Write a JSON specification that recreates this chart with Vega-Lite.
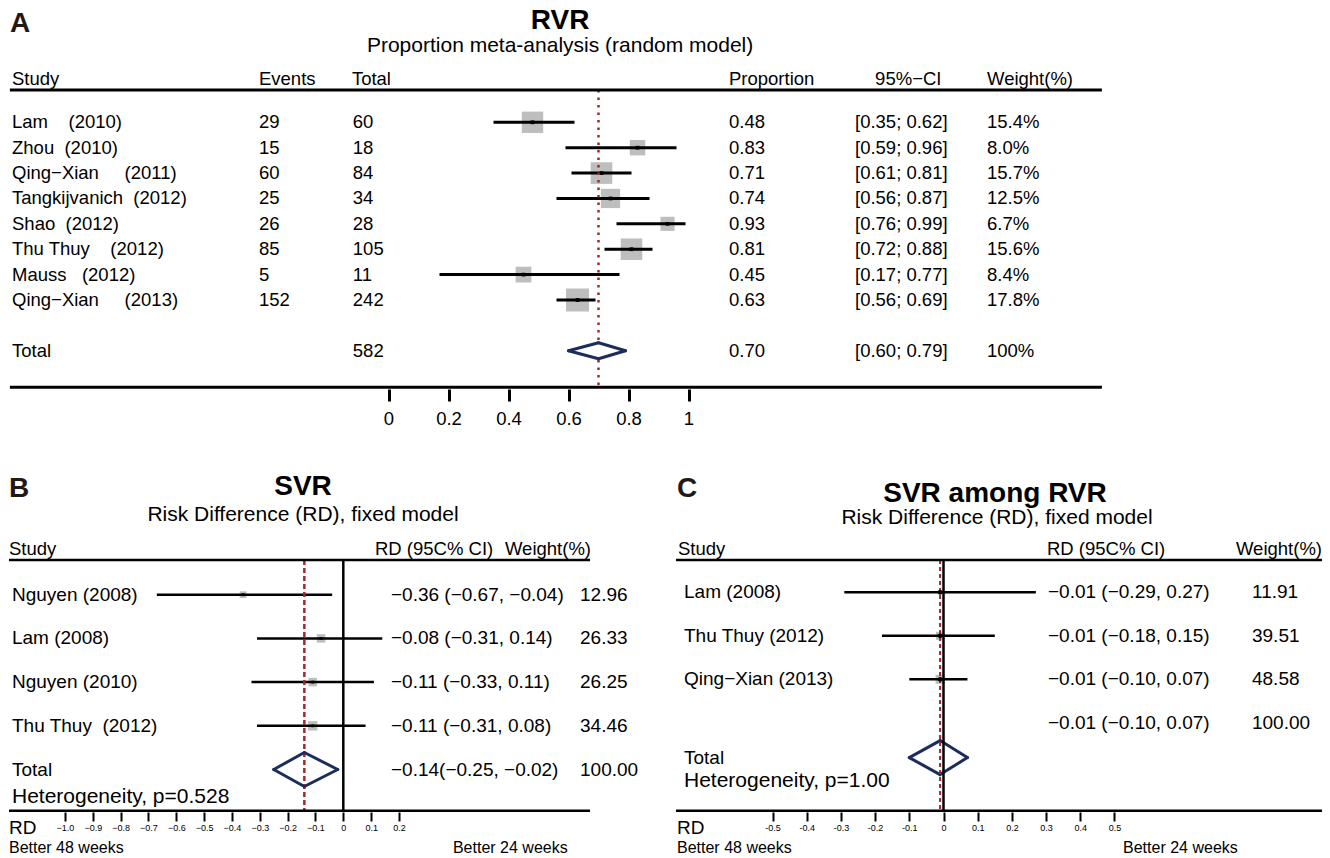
{
"$schema":"https://vega.github.io/schema/vega-lite/v6.json",
"padding":0,"background":"white","bounds":"flush","spacing":51,
"config":{"view":{"stroke":null},"font":"Liberation Sans","text":{"font":"Liberation Sans","color":"black"},"axis":{"labelFont":"Liberation Sans","grid":false}},
"datasets":{
"one":[{}],
"A":[
{"kind":"study","study":"Lam\u00a0\u00a0\u00a0\u00a0(2010)","events":"29","total":"60","prop":"0.48","ci":"[0.35; 0.62]","wlab":"15.4%","est":0.48,"lower":0.35,"upper":0.62,"weight":15.4,"row":1},
{"kind":"study","study":"Zhou\u00a0\u00a0(2010)","events":"15","total":"18","prop":"0.83","ci":"[0.59; 0.96]","wlab":"8.0%","est":0.83,"lower":0.59,"upper":0.96,"weight":8.0,"row":2},
{"kind":"study","study":"Qing−Xian\u00a0\u00a0\u00a0\u00a0\u00a0(2011)","events":"60","total":"84","prop":"0.71","ci":"[0.61; 0.81]","wlab":"15.7%","est":0.71,"lower":0.61,"upper":0.81,"weight":15.7,"row":3},
{"kind":"study","study":"Tangkijvanich\u00a0\u00a0(2012)","events":"25","total":"34","prop":"0.74","ci":"[0.56; 0.87]","wlab":"12.5%","est":0.74,"lower":0.56,"upper":0.87,"weight":12.5,"row":4},
{"kind":"study","study":"Shao\u00a0\u00a0(2012)","events":"26","total":"28","prop":"0.93","ci":"[0.76; 0.99]","wlab":"6.7%","est":0.93,"lower":0.76,"upper":0.99,"weight":6.7,"row":5},
{"kind":"study","study":"Thu Thuy\u00a0\u00a0\u00a0\u00a0(2012)","events":"85","total":"105","prop":"0.81","ci":"[0.72; 0.88]","wlab":"15.6%","est":0.81,"lower":0.72,"upper":0.88,"weight":15.6,"row":6},
{"kind":"study","study":"Mauss\u00a0\u00a0\u00a0(2012)","events":"5","total":"11","prop":"0.45","ci":"[0.17; 0.77]","wlab":"8.4%","est":0.45,"lower":0.17,"upper":0.77,"weight":8.4,"row":7},
{"kind":"study","study":"Qing−Xian\u00a0\u00a0\u00a0\u00a0\u00a0(2013)","events":"152","total":"242","prop":"0.63","ci":"[0.56; 0.69]","wlab":"17.8%","est":0.63,"lower":0.56,"upper":0.69,"weight":17.8,"row":8},
{"kind":"total","study":"Total","events":"","total":"582","prop":"0.70","ci":"[0.60; 0.79]","wlab":"100%","est":0.70,"lower":0.60,"upper":0.79,"row":10}
],
"B":[
{"kind":"study","study":"Nguyen (2008)","rd":"−0.36 (−0.67, −0.04)","w":"12.96","est":-0.36,"lower":-0.67,"upper":-0.04,"weight":12.96,"row":1},
{"kind":"study","study":"Lam (2008)","rd":"−0.08 (−0.31, 0.14)","w":"26.33","est":-0.08,"lower":-0.31,"upper":0.14,"weight":26.33,"row":2},
{"kind":"study","study":"Nguyen (2010)","rd":"−0.11 (−0.33, 0.11)","w":"26.25","est":-0.11,"lower":-0.33,"upper":0.11,"weight":26.25,"row":3},
{"kind":"study","study":"Thu Thuy\u00a0 (2012)","rd":"−0.11 (−0.31, 0.08)","w":"34.46","est":-0.11,"lower":-0.31,"upper":0.08,"weight":34.46,"row":4},
{"kind":"total","study":"Total","rd":"−0.14(−0.25, −0.02)","w":"100.00","est":-0.14,"lower":-0.25,"upper":-0.02,"row":5}
],
"C":[
{"kind":"study","study":"Lam (2008)","rd":"−0.01 (−0.29, 0.27)","w":"11.91","est":-0.01,"lower":-0.29,"upper":0.27,"weight":11.91,"row":1},
{"kind":"study","study":"Thu Thuy (2012)","rd":"−0.01 (−0.18, 0.15)","w":"39.51","est":-0.01,"lower":-0.18,"upper":0.15,"weight":39.51,"row":2},
{"kind":"study","study":"Qing−Xian (2013)","rd":"−0.01 (−0.10, 0.07)","w":"48.58","est":-0.01,"lower":-0.10,"upper":0.07,"weight":48.58,"row":3},
{"kind":"pooled","study":"","rd":"−0.01 (−0.10, 0.07)","w":"100.00","row":4},
{"kind":"total","study":"Total","rd":"","w":"","est":-0.01,"lower":-0.10,"upper":0.07,"row":4.8}
]
},
"vconcat":[
{"width":1330,"height":389,"data":{"name":"A"},
 "layer":[
  {"transform":[{"filter":"datum.kind == 'study'"}],
   "mark":{"type":"point","shape":"square","filled":true,"color":"#BEBEBE","opacity":1},
   "encoding":{
    "x":{"field":"est","type":"quantitative","scale":{"domain":[-1.295,3.13833],"nice":false,"zero":false},
      "axis":{"orient":"bottom","values":[0,0.2,0.4,0.6,0.8,1],"format":"~g","domain":false,"ticks":true,"tickSize":12,"tickWidth":3,"tickColor":"black","labelFontSize":18.5,"labelColor":"black","labelPadding":8,"title":null,"grid":false}},
    "y":{"field":"row","type":"quantitative","scale":{"domain":[-3.8177,11.506],"reverse":true,"nice":false,"zero":false},"axis":null},
    "size":{"field":"weight","type":"quantitative","scale":{"domain":[0,17.8],"range":[0,529]},"legend":null}}},
  {"transform":[{"filter":"datum.kind == 'study'"}],
   "mark":{"type":"rule","strokeWidth":3,"color":"black"},
   "encoding":{"x":{"field":"lower","type":"quantitative"},"x2":{"field":"upper"},"y":{"field":"row","type":"quantitative","axis":null}}},
  {"transform":[{"filter":"datum.kind == 'study'"}],
   "mark":{"type":"point","shape":"square","filled":true,"color":"black","size":14,"opacity":1},
   "encoding":{"x":{"field":"est","type":"quantitative"},"y":{"field":"row","type":"quantitative","axis":null}}},
  {"transform":[{"filter":"datum.kind == 'total'"}],
   "mark":{"type":"rule","strokeWidth":2.5,"color":"#9E2A2F","strokeDash":[2.5,5]},
   "encoding":{"x":{"field":"est","type":"quantitative"},"y":{"datum":-0.272,"type":"quantitative","axis":null},"y2":{"datum":11.5}}},
  {"transform":[{"filter":"datum.kind == 'total'"}],
   "mark":{"type":"rule","strokeWidth":6,"color":"white","yOffset":-7,"y2Offset":7},
   "encoding":{"x":{"field":"est","type":"quantitative"},"y":{"field":"row","type":"quantitative","axis":null},"y2":{"field":"row"}}},
  {"transform":[{"filter":"datum.kind == 'total'"}],
   "mark":{"type":"rule","strokeWidth":3,"color":"#1C2D5C","strokeCap":"round","y2Offset":-8},
   "encoding":{"x":{"field":"lower","type":"quantitative"},"x2":{"field":"est"},"y":{"field":"row","type":"quantitative","axis":null},"y2":{"field":"row"}}},
  {"transform":[{"filter":"datum.kind == 'total'"}],
   "mark":{"type":"rule","strokeWidth":3,"color":"#1C2D5C","strokeCap":"round","y2Offset":8},
   "encoding":{"x":{"field":"lower","type":"quantitative"},"x2":{"field":"est"},"y":{"field":"row","type":"quantitative","axis":null},"y2":{"field":"row"}}},
  {"transform":[{"filter":"datum.kind == 'total'"}],
   "mark":{"type":"rule","strokeWidth":3,"color":"#1C2D5C","strokeCap":"round","yOffset":-8},
   "encoding":{"x":{"field":"est","type":"quantitative"},"x2":{"field":"upper"},"y":{"field":"row","type":"quantitative","axis":null},"y2":{"field":"row"}}},
  {"transform":[{"filter":"datum.kind == 'total'"}],
   "mark":{"type":"rule","strokeWidth":3,"color":"#1C2D5C","strokeCap":"round","yOffset":8},
   "encoding":{"x":{"field":"est","type":"quantitative"},"x2":{"field":"upper"},"y":{"field":"row","type":"quantitative","axis":null},"y2":{"field":"row"}}},
  {"data":{"name":"one"},"mark":{"type":"rule","strokeWidth":3,"color":"black"},
   "encoding":{"x":{"datum":-1.262,"type":"quantitative"},"x2":{"datum":2.378},"y":{"datum":-0.272,"type":"quantitative","axis":null}}},
  {"data":{"name":"one"},"mark":{"type":"rule","strokeWidth":3,"color":"black"},
   "encoding":{"x":{"datum":-1.262,"type":"quantitative"},"x2":{"datum":2.378},"y":{"datum":11.44,"type":"quantitative","axis":null}}},
  {"mark":{"type":"text","align":"left","baseline":"middle","fontSize":18.5},
   "encoding":{"x":{"datum":-1.255,"type":"quantitative"},"y":{"field":"row","type":"quantitative","axis":null},"text":{"field":"study"}}},
  {"mark":{"type":"text","align":"left","baseline":"middle","fontSize":18.5},
   "encoding":{"x":{"datum":-0.4317,"type":"quantitative"},"y":{"field":"row","type":"quantitative","axis":null},"text":{"field":"events"}}},
  {"mark":{"type":"text","align":"left","baseline":"middle","fontSize":18.5},
   "encoding":{"x":{"datum":-0.119,"type":"quantitative"},"y":{"field":"row","type":"quantitative","axis":null},"text":{"field":"total"}}},
  {"mark":{"type":"text","align":"left","baseline":"middle","fontSize":18.5},
   "encoding":{"x":{"datum":1.135,"type":"quantitative"},"y":{"field":"row","type":"quantitative","axis":null},"text":{"field":"prop"}}},
  {"mark":{"type":"text","align":"left","baseline":"middle","fontSize":18.5},
   "encoding":{"x":{"datum":1.555,"type":"quantitative"},"y":{"field":"row","type":"quantitative","axis":null},"text":{"field":"ci"}}},
  {"mark":{"type":"text","align":"left","baseline":"middle","fontSize":18.5},
   "encoding":{"x":{"datum":1.995,"type":"quantitative"},"y":{"field":"row","type":"quantitative","axis":null},"text":{"field":"wlab"}}},
  {"data":{"name":"one"},"mark":{"type":"text","align":"left","baseline":"alphabetic","fontSize":18.5},
   "encoding":{"x":{"datum":-1.255,"type":"quantitative"},"y":{"datum":-0.469,"type":"quantitative","axis":null},"text":{"value":"Study"}}},
  {"data":{"name":"one"},"mark":{"type":"text","align":"left","baseline":"alphabetic","fontSize":18.5},
   "encoding":{"x":{"datum":-0.4317,"type":"quantitative"},"y":{"datum":-0.469,"type":"quantitative","axis":null},"text":{"value":"Events"}}},
  {"data":{"name":"one"},"mark":{"type":"text","align":"left","baseline":"alphabetic","fontSize":18.5},
   "encoding":{"x":{"datum":-0.122,"type":"quantitative"},"y":{"datum":-0.469,"type":"quantitative","axis":null},"text":{"value":"Total"}}},
  {"data":{"name":"one"},"mark":{"type":"text","align":"left","baseline":"alphabetic","fontSize":18.5},
   "encoding":{"x":{"datum":1.135,"type":"quantitative"},"y":{"datum":-0.469,"type":"quantitative","axis":null},"text":{"value":"Proportion"}}},
  {"data":{"name":"one"},"mark":{"type":"text","align":"left","baseline":"alphabetic","fontSize":18.5},
   "encoding":{"x":{"datum":1.622,"type":"quantitative"},"y":{"datum":-0.469,"type":"quantitative","axis":null},"text":{"value":"95%−CI"}}},
  {"data":{"name":"one"},"mark":{"type":"text","align":"left","baseline":"alphabetic","fontSize":18.5},
   "encoding":{"x":{"datum":1.995,"type":"quantitative"},"y":{"datum":-0.469,"type":"quantitative","axis":null},"text":{"value":"Weight(%)"}}},
  {"data":{"name":"one"},"mark":{"type":"text","align":"left","baseline":"alphabetic","fontSize":28,"fontWeight":"bold","color":"#231815"},
   "encoding":{"x":{"datum":-1.262,"type":"quantitative"},"y":{"datum":-2.557,"type":"quantitative","axis":null},"text":{"value":"A"}}},
  {"data":{"name":"one"},"mark":{"type":"text","align":"center","baseline":"alphabetic","fontSize":28,"fontWeight":"bold"},
   "encoding":{"x":{"datum":0.572,"type":"quantitative"},"y":{"datum":-2.656,"type":"quantitative","axis":null},"text":{"value":"RVR"}}},
  {"data":{"name":"one"},"mark":{"type":"text","align":"center","baseline":"alphabetic","fontSize":21},
   "encoding":{"x":{"datum":0.572,"type":"quantitative"},"y":{"datum":-1.75,"type":"quantitative","axis":null},"text":{"value":"Proportion meta-analysis (random model)"}}}
 ]},
{"hconcat":[
 {"width":640,"height":372,"data":{"name":"B"},
 "layer":[
  {"transform":[{"filter":"datum.kind == 'study'"}],
   "mark":{"type":"point","shape":"square","filled":true,"color":"#BEBEBE","opacity":1},
   "encoding":{
    "x":{"field":"est","type":"quantitative","scale":{"domain":[-1.23356,1.06612],"nice":false,"zero":false},
      "axis":{"orient":"bottom","values":[-1,-0.9,-0.8,-0.7,-0.6,-0.5,-0.4,-0.3,-0.2,-0.1,0,0.1,0.2],"labelExpr":"datum.value == 0 ? '0' : format(datum.value, '.1f')","domain":false,"ticks":true,"tickSize":9,"tickWidth":2,"tickColor":"black","labelFontSize":9,"labelColor":"black","labelPadding":2,"title":null,"grid":false}},
    "y":{"field":"row","type":"quantitative","scale":{"domain":[-2.54005,5.97254],"reverse":true,"nice":false,"zero":false},"axis":null},
    "size":{"field":"weight","type":"quantitative","scale":{"domain":[0,35],"range":[20,90]},"legend":null}}},
  {"transform":[{"filter":"datum.kind == 'study'"}],
   "mark":{"type":"rule","strokeWidth":2.5,"color":"black"},
   "encoding":{"x":{"field":"lower","type":"quantitative"},"x2":{"field":"upper"},"y":{"field":"row","type":"quantitative","axis":null}}},
  {"transform":[{"filter":"datum.kind == 'study'"}],
   "mark":{"type":"point","shape":"square","filled":true,"color":"black","size":8,"opacity":1},
   "encoding":{"x":{"field":"est","type":"quantitative"},"y":{"field":"row","type":"quantitative","axis":null}}},
  {"data":{"name":"one"},"mark":{"type":"rule","strokeWidth":2.5,"color":"black"},
   "encoding":{"x":{"datum":0,"type":"quantitative"},"y":{"datum":0.208,"type":"quantitative","axis":null},"y2":{"datum":5.96}}},
  {"transform":[{"filter":"datum.kind == 'total'"}],
   "mark":{"type":"rule","strokeWidth":2.5,"color":"#9E2A2F","strokeDash":[5,3]},
   "encoding":{"x":{"field":"est","type":"quantitative"},"y":{"datum":0.208,"type":"quantitative","axis":null},"y2":{"datum":5.96}}},
  {"transform":[{"filter":"datum.kind == 'total'"}],
   "mark":{"type":"rule","strokeWidth":3,"color":"#1C2D5C","strokeCap":"round","y2Offset":-17},
   "encoding":{"x":{"field":"lower","type":"quantitative"},"x2":{"field":"est"},"y":{"field":"row","type":"quantitative","axis":null},"y2":{"field":"row"}}},
  {"transform":[{"filter":"datum.kind == 'total'"}],
   "mark":{"type":"rule","strokeWidth":3,"color":"#1C2D5C","strokeCap":"round","y2Offset":17},
   "encoding":{"x":{"field":"lower","type":"quantitative"},"x2":{"field":"est"},"y":{"field":"row","type":"quantitative","axis":null},"y2":{"field":"row"}}},
  {"transform":[{"filter":"datum.kind == 'total'"}],
   "mark":{"type":"rule","strokeWidth":3,"color":"#1C2D5C","strokeCap":"round","yOffset":-17},
   "encoding":{"x":{"field":"est","type":"quantitative"},"x2":{"field":"upper"},"y":{"field":"row","type":"quantitative","axis":null},"y2":{"field":"row"}}},
  {"transform":[{"filter":"datum.kind == 'total'"}],
   "mark":{"type":"rule","strokeWidth":3,"color":"#1C2D5C","strokeCap":"round","yOffset":17},
   "encoding":{"x":{"field":"est","type":"quantitative"},"x2":{"field":"upper"},"y":{"field":"row","type":"quantitative","axis":null},"y2":{"field":"row"}}},
  {"data":{"name":"one"},"mark":{"type":"rule","strokeWidth":2.5,"color":"black"},
   "encoding":{"x":{"datum":-1.2013,"type":"quantitative"},"x2":{"datum":0.8865},"y":{"datum":0.208,"type":"quantitative","axis":null}}},
  {"data":{"name":"one"},"mark":{"type":"rule","strokeWidth":2.5,"color":"black"},
   "encoding":{"x":{"datum":-1.2013,"type":"quantitative"},"x2":{"datum":0.8865},"y":{"datum":5.945,"type":"quantitative","axis":null}}},
  {"mark":{"type":"text","align":"left","baseline":"middle","fontSize":19},
   "encoding":{"x":{"datum":-1.1905,"type":"quantitative"},"y":{"field":"row","type":"quantitative","axis":null},"text":{"field":"study"}}},
  {"mark":{"type":"text","align":"left","baseline":"middle","fontSize":19},
   "encoding":{"x":{"datum":0.1714,"type":"quantitative"},"y":{"field":"row","type":"quantitative","axis":null},"text":{"field":"rd"}}},
  {"mark":{"type":"text","align":"left","baseline":"middle","fontSize":19},
   "encoding":{"x":{"datum":0.8505,"type":"quantitative"},"y":{"field":"row","type":"quantitative","axis":null},"text":{"field":"w"}}},
  {"data":{"name":"one"},"mark":{"type":"text","align":"left","baseline":"alphabetic","fontSize":18.5},
   "encoding":{"x":{"datum":-1.2013,"type":"quantitative"},"y":{"datum":0.0915,"type":"quantitative","axis":null},"text":{"value":"Study"}}},
  {"data":{"name":"one"},"mark":{"type":"text","align":"left","baseline":"alphabetic","fontSize":18.5},
   "encoding":{"x":{"datum":0.1139,"type":"quantitative"},"y":{"datum":0.0915,"type":"quantitative","axis":null},"text":{"value":"RD (95C% CI)"}}},
  {"data":{"name":"one"},"mark":{"type":"text","align":"left","baseline":"alphabetic","fontSize":18.5},
   "encoding":{"x":{"datum":0.581,"type":"quantitative"},"y":{"datum":0.0915,"type":"quantitative","axis":null},"text":{"value":"Weight(%)"}}},
  {"data":{"name":"one"},"mark":{"type":"text","align":"left","baseline":"middle","fontSize":21},
   "encoding":{"x":{"datum":-1.1905,"type":"quantitative"},"y":{"datum":5.63,"type":"quantitative","axis":null},"text":{"value":"Heterogeneity, p=0.528"}}},
  {"data":{"name":"one"},"mark":{"type":"text","align":"left","baseline":"alphabetic","fontSize":19},
   "encoding":{"x":{"datum":-1.2013,"type":"quantitative"},"y":{"datum":6.476,"type":"quantitative","axis":null},"text":{"value":"RD"}}},
  {"data":{"name":"one"},"mark":{"type":"text","align":"left","baseline":"alphabetic","fontSize":16},
   "encoding":{"x":{"datum":-1.2013,"type":"quantitative"},"y":{"datum":6.911,"type":"quantitative","axis":null},"text":{"value":"Better 48 weeks"}}},
  {"data":{"name":"one"},"mark":{"type":"text","align":"left","baseline":"alphabetic","fontSize":16},
   "encoding":{"x":{"datum":0.394,"type":"quantitative"},"y":{"datum":6.911,"type":"quantitative","axis":null},"text":{"value":"Better 24 weeks"}}},
  {"data":{"name":"one"},"mark":{"type":"text","align":"left","baseline":"alphabetic","fontSize":28,"fontWeight":"bold","color":"#231815"},
   "encoding":{"x":{"datum":-1.2013,"type":"quantitative"},"y":{"datum":-1.236,"type":"quantitative","axis":null},"text":{"value":"B"}}},
  {"data":{"name":"one"},"mark":{"type":"text","align":"center","baseline":"alphabetic","fontSize":28,"fontWeight":"bold"},
   "encoding":{"x":{"datum":-0.1448,"type":"quantitative"},"y":{"datum":-1.2815,"type":"quantitative","axis":null},"text":{"value":"SVR"}}},
  {"data":{"name":"one"},"mark":{"type":"text","align":"center","baseline":"alphabetic","fontSize":21},
   "encoding":{"x":{"datum":-0.1448,"type":"quantitative"},"y":{"datum":-0.6865,"type":"quantitative","axis":null},"text":{"value":"Risk Difference (RD), fixed model"}}}
 ]},
 {"width":660,"height":372,"data":{"name":"C"},
 "layer":[
  {"transform":[{"filter":"datum.kind == 'study'"}],
   "mark":{"type":"point","shape":"square","filled":true,"color":"#BEBEBE","opacity":1},
   "encoding":{
    "x":{"field":"est","type":"quantitative","scale":{"domain":[-0.79971,1.13012],"nice":false,"zero":false},
      "axis":{"orient":"bottom","values":[-0.5,-0.4,-0.3,-0.2,-0.1,0,0.1,0.2,0.3,0.4,0.5],"labelExpr":"datum.value == 0 ? '0' : replace(format(datum.value, '.1f'), '−', '-')","domain":false,"ticks":true,"tickSize":9,"tickWidth":2,"tickColor":"black","labelFontSize":9,"labelColor":"black","labelPadding":2,"title":null,"grid":false}},
    "y":{"field":"row","type":"quantitative","scale":{"domain":[-2.50115,6.05057],"reverse":true,"nice":false,"zero":false},"axis":null},
    "size":{"field":"weight","type":"quantitative","scale":{"domain":[0,50],"range":[0,84]},"legend":null}}},
  {"transform":[{"filter":"datum.kind == 'study'"}],
   "mark":{"type":"rule","strokeWidth":2.5,"color":"black"},
   "encoding":{"x":{"field":"lower","type":"quantitative"},"x2":{"field":"upper"},"y":{"field":"row","type":"quantitative","axis":null}}},
  {"transform":[{"filter":"datum.kind == 'total'"}],
   "mark":{"type":"rule","strokeWidth":3,"color":"#1C2D5C","strokeCap":"round","y2Offset":-17},
   "encoding":{"x":{"field":"lower","type":"quantitative"},"x2":{"field":"est"},"y":{"field":"row","type":"quantitative","axis":null},"y2":{"field":"row"}}},
  {"transform":[{"filter":"datum.kind == 'total'"}],
   "mark":{"type":"rule","strokeWidth":3,"color":"#1C2D5C","strokeCap":"round","y2Offset":17},
   "encoding":{"x":{"field":"lower","type":"quantitative"},"x2":{"field":"est"},"y":{"field":"row","type":"quantitative","axis":null},"y2":{"field":"row"}}},
  {"transform":[{"filter":"datum.kind == 'total'"}],
   "mark":{"type":"rule","strokeWidth":3,"color":"#1C2D5C","strokeCap":"round","yOffset":-17},
   "encoding":{"x":{"field":"est","type":"quantitative"},"x2":{"field":"upper"},"y":{"field":"row","type":"quantitative","axis":null},"y2":{"field":"row"}}},
  {"transform":[{"filter":"datum.kind == 'total'"}],
   "mark":{"type":"rule","strokeWidth":3,"color":"#1C2D5C","strokeCap":"round","yOffset":17},
   "encoding":{"x":{"field":"est","type":"quantitative"},"x2":{"field":"upper"},"y":{"field":"row","type":"quantitative","axis":null},"y2":{"field":"row"}}},
  {"transform":[{"filter":"datum.kind == 'total'"}],
   "mark":{"type":"rule","strokeWidth":2,"color":"#9E2A2F","strokeDash":[4,3]},
   "encoding":{"x":{"field":"est","type":"quantitative"},"y":{"datum":0.2575,"type":"quantitative","axis":null},"y2":{"datum":6.04}}},
  {"data":{"name":"one"},"mark":{"type":"rule","strokeWidth":2.5,"color":"black"},
   "encoding":{"x":{"datum":0,"type":"quantitative"},"y":{"datum":0.2575,"type":"quantitative","axis":null},"y2":{"datum":6.04}}},
  {"transform":[{"filter":"datum.kind == 'study'"}],
   "mark":{"type":"point","shape":"circle","filled":true,"color":"black","size":22,"opacity":1},
   "encoding":{"x":{"field":"est","type":"quantitative"},"y":{"field":"row","type":"quantitative","axis":null}}},
  {"data":{"name":"one"},"mark":{"type":"rule","strokeWidth":2.5,"color":"black"},
   "encoding":{"x":{"datum":-0.7822,"type":"quantitative"},"x2":{"datum":1.1067},"y":{"datum":0.2575,"type":"quantitative","axis":null}}},
  {"data":{"name":"one"},"mark":{"type":"rule","strokeWidth":2.5,"color":"black"},
   "encoding":{"x":{"datum":-0.7822,"type":"quantitative"},"x2":{"datum":1.1067},"y":{"datum":6.022,"type":"quantitative","axis":null}}},
  {"mark":{"type":"text","align":"left","baseline":"middle","fontSize":19},
   "encoding":{"x":{"datum":-0.7588,"type":"quantitative"},"y":{"field":"row","type":"quantitative","axis":null},"text":{"field":"study"}}},
  {"mark":{"type":"text","align":"left","baseline":"middle","fontSize":19},
   "encoding":{"x":{"datum":0.3056,"type":"quantitative"},"y":{"field":"row","type":"quantitative","axis":null},"text":{"field":"rd"}}},
  {"mark":{"type":"text","align":"left","baseline":"middle","fontSize":19},
   "encoding":{"x":{"datum":0.902,"type":"quantitative"},"y":{"field":"row","type":"quantitative","axis":null},"text":{"field":"w"}}},
  {"data":{"name":"one"},"mark":{"type":"text","align":"left","baseline":"alphabetic","fontSize":18.5},
   "encoding":{"x":{"datum":-0.7763,"type":"quantitative"},"y":{"datum":0.1425,"type":"quantitative","axis":null},"text":{"value":"Study"}}},
  {"data":{"name":"one"},"mark":{"type":"text","align":"left","baseline":"alphabetic","fontSize":18.5},
   "encoding":{"x":{"datum":0.3026,"type":"quantitative"},"y":{"datum":0.1425,"type":"quantitative","axis":null},"text":{"value":"RD (95C% CI)"}}},
  {"data":{"name":"one"},"mark":{"type":"text","align":"right","baseline":"alphabetic","fontSize":18.5},
   "encoding":{"x":{"datum":1.1067,"type":"quantitative"},"y":{"datum":0.1425,"type":"quantitative","axis":null},"text":{"value":"Weight(%)"}}},
  {"data":{"name":"one"},"mark":{"type":"text","align":"left","baseline":"middle","fontSize":21},
   "encoding":{"x":{"datum":-0.7588,"type":"quantitative"},"y":{"datum":5.338,"type":"quantitative","axis":null},"text":{"value":"Heterogeneity, p=1.00"}}},
  {"data":{"name":"one"},"mark":{"type":"text","align":"left","baseline":"alphabetic","fontSize":19},
   "encoding":{"x":{"datum":-0.7792,"type":"quantitative"},"y":{"datum":6.556,"type":"quantitative","axis":null},"text":{"value":"RD"}}},
  {"data":{"name":"one"},"mark":{"type":"text","align":"left","baseline":"alphabetic","fontSize":16},
   "encoding":{"x":{"datum":-0.7792,"type":"quantitative"},"y":{"datum":6.989,"type":"quantitative","axis":null},"text":{"value":"Better 48 weeks"}}},
  {"data":{"name":"one"},"mark":{"type":"text","align":"left","baseline":"alphabetic","fontSize":16},
   "encoding":{"x":{"datum":0.525,"type":"quantitative"},"y":{"datum":6.989,"type":"quantitative","axis":null},"text":{"value":"Better 24 weeks"}}},
  {"data":{"name":"one"},"mark":{"type":"text","align":"left","baseline":"alphabetic","fontSize":28,"fontWeight":"bold","color":"#231815"},
   "encoding":{"x":{"datum":-0.7792,"type":"quantitative"},"y":{"datum":-1.191,"type":"quantitative","axis":null},"text":{"value":"C"}}},
  {"data":{"name":"one"},"mark":{"type":"text","align":"center","baseline":"alphabetic","fontSize":28,"fontWeight":"bold"},
   "encoding":{"x":{"datum":0.1506,"type":"quantitative"},"y":{"datum":-1.075,"type":"quantitative","axis":null},"text":{"value":"SVR among RVR"}}},
  {"data":{"name":"one"},"mark":{"type":"text","align":"center","baseline":"alphabetic","fontSize":21},
   "encoding":{"x":{"datum":0.1564,"type":"quantitative"},"y":{"datum":-0.57,"type":"quantitative","axis":null},"text":{"value":"Risk Difference (RD), fixed model"}}}
 ]}
],"spacing":30,"bounds":"flush","resolve":{"scale":{"size":"independent"},"legend":{"size":"independent"}}}
],
"resolve":{"scale":{"size":"independent"},"legend":{"size":"independent"}}
}
